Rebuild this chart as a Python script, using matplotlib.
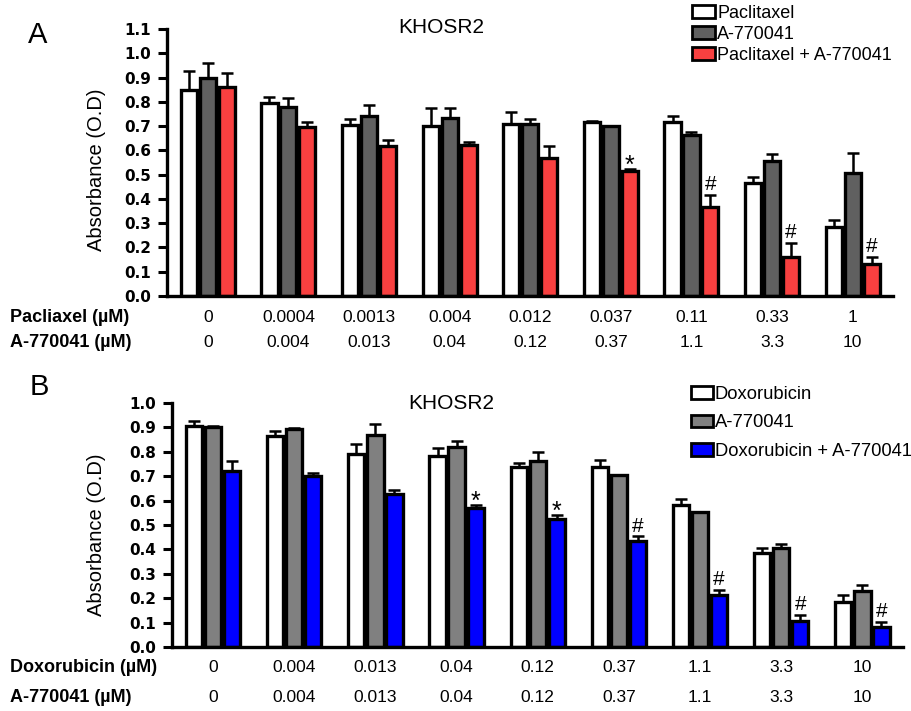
import matplotlib.pyplot as plt
import numpy as np
from matplotlib.patches import Patch
from matplotlib.transforms import blended_transform_factory

plt.rcParams['font.family'] = ['Liberation Sans', 'DejaVu Sans']

# Data - panel A (paclitaxel)
pac_dose = ['0', '0.0004', '0.0013', '0.004', '0.012', '0.037', '0.11', '0.33', '1']
a77_dose_a = ['0', '0.004', '0.013', '0.04', '0.12', '0.37', '1.1', '3.3', '10']
pac_mean = [0.85, 0.795, 0.705, 0.70, 0.71, 0.715, 0.715, 0.465, 0.285]
pac_err = [0.075, 0.025, 0.025, 0.075, 0.05, 0.008, 0.025, 0.025, 0.028]
a77_mean_a = [0.90, 0.78, 0.74, 0.735, 0.708, 0.70, 0.663, 0.557, 0.508]
a77_err_a = [0.06, 0.035, 0.045, 0.04, 0.023, 0.0, 0.012, 0.026, 0.08]
combo_mean_a = [0.86, 0.695, 0.62, 0.624, 0.568, 0.517, 0.365, 0.162, 0.131]
combo_err_a = [0.06, 0.023, 0.023, 0.01, 0.048, 0.007, 0.053, 0.058, 0.03]
marks_a = ['', '', '', '', '', '*', '#', '#', '#']

# Data - panel B (doxorubicin)
dox_dose = ['0', '0.004', '0.013', '0.04', '0.12', '0.37', '1.1', '3.3', '10']
a77_dose_b = ['0', '0.004', '0.013', '0.04', '0.12', '0.37', '1.1', '3.3', '10']
dox_mean = [0.904, 0.864, 0.792, 0.782, 0.736, 0.737, 0.581, 0.384, 0.186]
dox_err = [0.021, 0.022, 0.038, 0.034, 0.019, 0.029, 0.024, 0.02, 0.026]
a77_mean_b = [0.903, 0.895, 0.867, 0.819, 0.764, 0.703, 0.553, 0.404, 0.23]
a77_err_b = [0.003, 0.002, 0.045, 0.026, 0.036, 0.0, 0.0, 0.019, 0.023]
combo_mean_b = [0.722, 0.699, 0.626, 0.568, 0.525, 0.436, 0.212, 0.107, 0.082]
combo_err_b = [0.041, 0.013, 0.019, 0.014, 0.016, 0.017, 0.021, 0.023, 0.021]
marks_b = ['', '', '', '*', '*', '#', '#', '#', '#']

W, H = 911, 711
fig = plt.figure(figsize=(W / 100, H / 100), dpi=100)


def px(x, y):
    return x / W, 1 - y / H


def draw_panel(rect, means, errs, colors, marks, ymax):
    ax = fig.add_axes(rect)
    idx = np.arange(len(means[0]))
    off = 0.235
    for k, (m, e, c) in enumerate(zip(means, errs, colors)):
        x = idx + (k - 1) * off
        ax.bar(x, m, 0.2, color=c, edgecolor='black', linewidth=2.4, zorder=2)
        ax.errorbar(x, m, yerr=[np.zeros(len(e)), e], fmt='none', ecolor='black',
                    elinewidth=1.8, capsize=4, capthick=1.8, zorder=3)
    # significance marks above the combination bars
    last = np.array(means[2]) + np.array(errs[2])
    for i, mk in enumerate(marks):
        if mk == '*':
            ax.annotate(mk, (idx[i] + off, last[i]), xytext=(0, -3), textcoords='offset points',
                        ha='center', va='baseline', fontsize=18)
        elif mk == '#':
            ax.annotate(mk, (idx[i] + off, last[i]), xytext=(0, 3.5), textcoords='offset points',
                        ha='center', va='baseline', fontsize=15)
    ax.set_xlim(-0.506, 8.5)
    ax.set_ylim(0, ymax)
    ticks = np.round(np.arange(0, ymax + 0.001, 0.1), 1)
    ax.set_yticks(ticks)
    ax.set_yticklabels([f'{v:.1f}' for v in ticks],
                       fontfamily='DejaVu Sans', fontweight='bold', fontsize=11)
    ax.set_xticks([])
    for s in ['top', 'right']:
        ax.spines[s].set_visible(False)
    for s in ['left', 'bottom']:
        ax.spines[s].set_linewidth(2.4)
    ax.tick_params(axis='y', length=6.5, width=2.2, pad=5)
    return ax


# Panel A
axA = draw_panel([167 / W, 1 - 296 / H, 726 / W, 267 / H],
                 [pac_mean, a77_mean_a, combo_mean_a], [pac_err, a77_err_a, combo_err_a],
                 ['white', '#606060', '#f84040'], marks_a, 1.1)
# Panel B
axB = draw_panel([172 / W, 1 - 647 / H, 731 / W, 244 / H],
                 [dox_mean, a77_mean_b, combo_mean_b], [dox_err, a77_err_b, combo_err_b],
                 ['white', '#808080', '#0000ff'], marks_b, 1.0)

# panel letters, titles, y labels
fig.text(*px(28, 43), 'A', fontsize=21, va='baseline')
fig.text(*px(30, 395), 'B', fontsize=21, va='baseline')
fig.text(*px(441, 33), 'KHOSR2', fontsize=15, ha='center', va='baseline')
fig.text(*px(451, 409), 'KHOSR2', fontsize=15, ha='center', va='baseline')
fig.text(*px(97, 170), 'Absorbance (O.D)', fontsize=14.5, rotation=90, ha='center', va='center')
fig.text(*px(97, 535), 'Absorbance (O.D)', fontsize=14.5, rotation=90, ha='center', va='center')


# dose tables under the axes
def dose_rows(ax, rows):
    tr = blended_transform_factory(ax.transData, fig.transFigure)
    for label, doses, ypix in rows:
        fig.text(*px(10, ypix), label, fontsize=13, fontweight='bold', va='center')
        for i, d in enumerate(doses):
            ax.text(i, 1 - ypix / H, d, transform=tr, fontsize=12.5, ha='center', va='center')


dose_rows(axA, [('Pacliaxel (µM)', pac_dose, 317), ('A-770041 (µM)', a77_dose_a, 343)])
dose_rows(axB, [('Doxorubicin (µM)', dox_dose, 668), ('A-770041 (µM)', a77_dose_b, 698)])

# legends
hA = [Patch(facecolor=c, edgecolor='black', linewidth=2.0) for c in ['white', '#606060', '#f84040']]
fig.legend(hA, ['Paclitaxel', 'A-770041', 'Paclitaxel + A-770041'], loc='upper left',
           bbox_to_anchor=px(692, 5), frameon=False, fontsize=13, borderpad=0,
           borderaxespad=0, handlelength=1.3, handleheight=0.7, handletextpad=0.1,
           labelspacing=0.22)
hB = [Patch(facecolor=c, edgecolor='black', linewidth=2.0) for c in ['white', '#808080', '#0000ff']]
fig.legend(hB, ['Doxorubicin', 'A-770041', 'Doxorubicin + A-770041'], loc='upper left',
           bbox_to_anchor=px(691, 386), frameon=False, fontsize=13.2, borderpad=0,
           borderaxespad=0, handlelength=1.2, handleheight=0.7, handletextpad=0.1,
           labelspacing=0.62)

fig.savefig('out.png', dpi=100)
